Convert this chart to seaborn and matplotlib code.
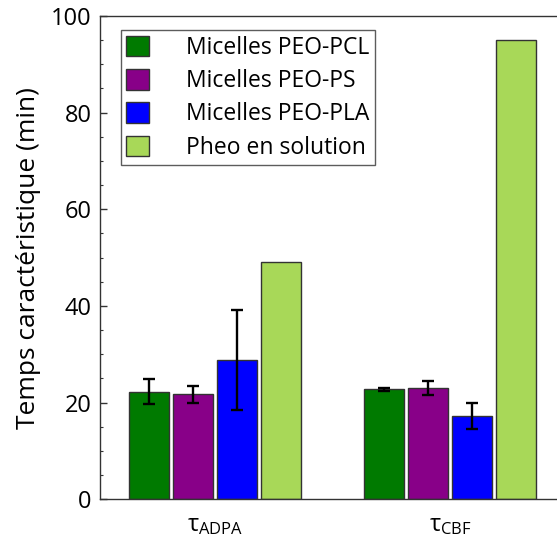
import pandas as pd
import numpy as np
import matplotlib
matplotlib.use("Agg")
import matplotlib.pyplot as plt
import seaborn as sns
from matplotlib.ticker import MultipleLocator

# Data
groups = [r"τ$_{\rm ADPA}$", r"τ$_{\rm CBF}$"]
series = ["Micelles PEO-PCL", "Micelles PEO-PS", "Micelles PEO-PLA", "Pheo en solution"]
pcl_vals = [22.3, 22.8]
ps_vals = [21.7, 23.0]
pla_vals = [28.8, 17.3]
pheo_vals = [49.2, 95.0]
pcl_err = [2.5, 0.3]
ps_err = [1.8, 1.4]
pla_err = [10.3, 2.7]
pheo_err = [np.nan, np.nan]
colors = ["#007A00", "#880088", "#0000FF", "#A8D858"]

values = [pcl_vals, ps_vals, pla_vals, pheo_vals]
errors = [pcl_err, ps_err, pla_err, pheo_err]

rows = []
for s, vals, errs in zip(series, values, errors):
    for g, v, e in zip(groups, vals, errs):
        rows.append([g, s, v, e])
df = pd.DataFrame(rows, columns=["group", "serie", "temps", "err"])

sns.set_style("ticks")
plt.rcParams["font.family"] = ["Open Sans", "DejaVu Sans"]
plt.rcParams["mathtext.fontset"] = "custom"
plt.rcParams["mathtext.rm"] = "Open Sans"
plt.rcParams["mathtext.it"] = "Open Sans:italic"
plt.rcParams["text.color"] = "black"
plt.rcParams["axes.labelcolor"] = "black"
plt.rcParams["xtick.color"] = "black"
plt.rcParams["ytick.color"] = "black"

fig = plt.figure(figsize=(5.57, 5.37), dpi=100)
ax = fig.add_axes([100 / 557, 37.7 / 537, 460 / 557, 483.3 / 537])

sns.barplot(data=df, x="group", y="temps", hue="serie", hue_order=series,
            palette=colors, width=0.75, gap=0.1, edgecolor="#333333",
            linewidth=1, saturation=1, errorbar=None, ax=ax)

# error bars on top of each bar (patches follow hue order, then group)
bars = [p for p in ax.patches if p.get_height() > 0][:len(df)]
for p, e in zip(bars, df["err"]):
    if np.isnan(e):
        continue
    xc = p.get_x() + p.get_width() / 2
    ax.errorbar(xc, p.get_height(), yerr=e, fmt="none", ecolor="black",
                elinewidth=1.7, capsize=4, capthick=1.7)

ax.set_ylim(0, 100)
ax.set_xlim(-0.49, 1.468)
ax.yaxis.set_major_locator(MultipleLocator(20))
ax.yaxis.set_minor_locator(MultipleLocator(5))
ax.tick_params(axis="y", which="major", direction="in", length=5, width=1,
               labelsize=17, pad=6, color="#333333")
ax.tick_params(axis="y", which="minor", direction="in", length=2.5, width=0.8,
               color="#333333")
ax.tick_params(axis="x", length=0, labelsize=17, pad=10)
ax.set_xlabel("")
ax.set_ylabel("Temps caractéristique (min)", fontsize=19, labelpad=7)

for side in ["left", "bottom", "top"]:
    ax.spines[side].set_color("#333333")
    ax.spines[side].set_linewidth(1)
ax.spines["right"].set_visible(False)

leg = ax.legend(loc="upper left", bbox_to_anchor=(0.045, 0.971),
                borderaxespad=0, fontsize=16.5, frameon=True, fancybox=False,
                handlelength=1.0, handleheight=1.0, handletextpad=1.6,
                labelspacing=0.4, borderpad=0.25, title=None)
leg.get_frame().set_edgecolor("#333333")
leg.get_frame().set_linewidth(1)
for h in leg.legend_handles:
    h.set_edgecolor("#333333")

fig.savefig("out.png", dpi=100)
